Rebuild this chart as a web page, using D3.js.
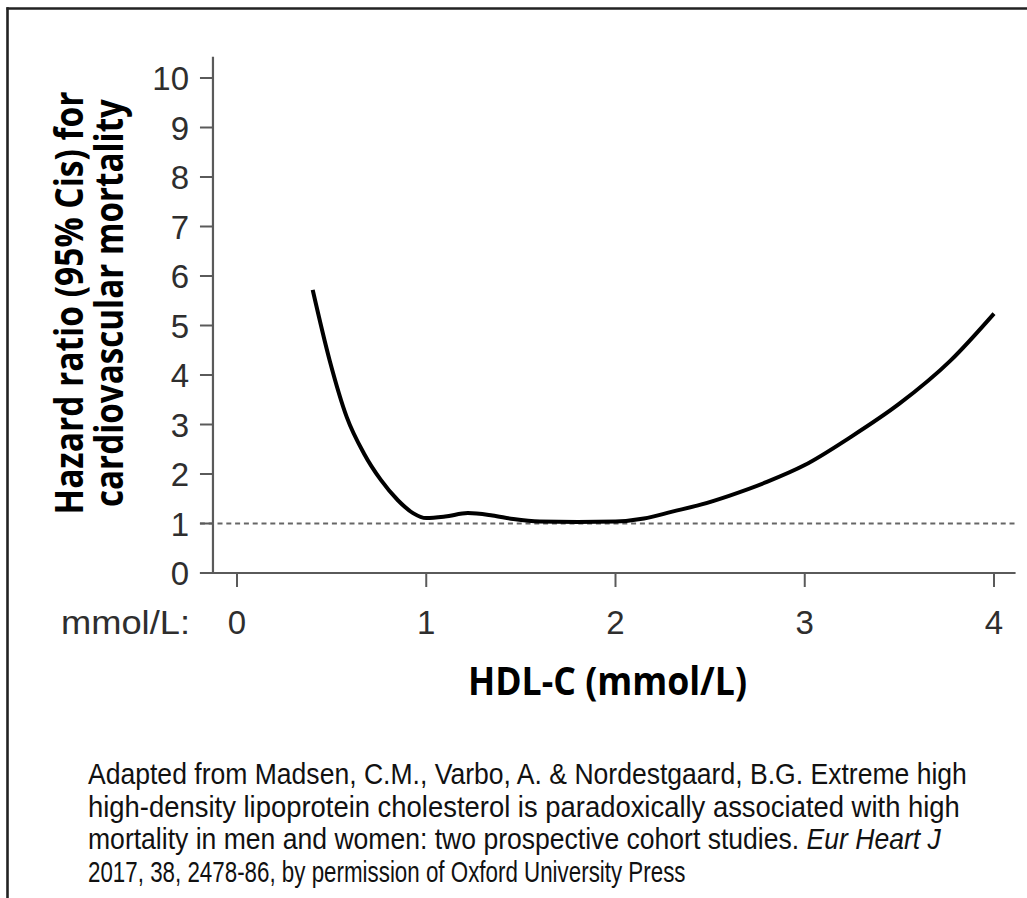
<!DOCTYPE html>
<html>
<head>
<meta charset="utf-8">
<script src="https://cdn.jsdelivr.net/npm/d3@7"></script>
<style>
  html, body { margin: 0; padding: 0; background: #fff; }
  svg { display: block; }
</style>
</head>
<body>
<script>
// ---- Data ----
const hdl = [0.40, 0.49, 0.58, 0.67, 0.76, 0.85, 0.93, 1.00, 1.10, 1.22, 1.35, 1.46, 1.60, 1.80, 2.00, 2.15, 2.30, 2.45, 2.60, 2.80, 3.00, 3.24, 3.50, 3.77, 4.00];
const hazardRatio = [5.72, 4.29, 3.15, 2.42, 1.88, 1.47, 1.21, 1.11, 1.14, 1.21, 1.16, 1.09, 1.04, 1.03, 1.04, 1.10, 1.24, 1.38, 1.56, 1.84, 2.18, 2.74, 3.42, 4.29, 5.24];
const yTicks = [0, 1, 2, 3, 4, 5, 6, 7, 8, 9, 10];
const xTicks = [0, 1, 2, 3, 4];
const referenceHR = 1;
const xUnitLabel = "mmol/L:";
const xTitle = "HDL-C (mmol/L)";
const yTitleLines = ["Hazard ratio (95% Cis) for", "cardiovascular mortality"];
const captionLines = [
  [{t: "Adapted from Madsen, C.M., Varbo, A. & Nordestgaard, B.G. Extreme high"}],
  [{t: "high-density lipoprotein cholesterol is paradoxically associated with high"}],
  [{t: "mortality in men and women: two prospective cohort studies. "}, {t: "Eur Heart J", i: true}],
  [{t: "2017, 38, 2478-86, by permission of Oxford University Press"}]
];

// ---- Layout ----
const W = 1027, H = 898;
const svg = d3.select("body").append("svg").attr("width", W).attr("height", H);
svg.append("rect").attr("width", W).attr("height", H).attr("fill", "#fff");

// frame (top + left)
svg.append("line").attr("x1", 6.5).attr("x2", W).attr("y1", 8.5).attr("y2", 8.5)
  .attr("stroke", "#222").attr("stroke-width", 2.6);
svg.append("line").attr("x1", 7.5).attr("x2", 7.5).attr("y1", 7.2).attr("y2", H)
  .attr("stroke", "#222").attr("stroke-width", 2.6);

const x = d3.scaleLinear().domain([0, 4]).range([237, 994]);
const y = d3.scaleLinear().domain([0, 10]).range([573, 78]);

const axisColor = "#5a5a5a";
const labelColor = "#2e2e2e";
const yAxisX = x(-0.127);
const xAxisY = y(0);

// y axis line
svg.append("line").attr("x1", yAxisX).attr("x2", yAxisX)
  .attr("y1", y(10.43)).attr("y2", xAxisY)
  .attr("stroke", axisColor).attr("stroke-width", 2.2);
// x axis line
svg.append("line").attr("x1", x(-0.196)).attr("x2", x(4.114))
  .attr("y1", xAxisY).attr("y2", xAxisY)
  .attr("stroke", axisColor).attr("stroke-width", 2.2);

// reference dashed line
svg.append("line").attr("x1", x(-0.196)).attr("x2", x(4.114))
  .attr("y1", y(referenceHR)).attr("y2", y(referenceHR))
  .attr("stroke", "#666").attr("stroke-width", 2.2).attr("stroke-dasharray", "5,3.8");

// y ticks
const yt = svg.append("g");
yt.selectAll("line").data(yTicks).join("line")
  .attr("x1", yAxisX - 13).attr("x2", yAxisX)
  .attr("y1", d => y(d)).attr("y2", d => y(d))
  .attr("stroke", axisColor).attr("stroke-width", 2);
yt.selectAll("text").data(yTicks).join("text")
  .attr("x", 189).attr("y", d => y(d) + 12.3)
  .attr("text-anchor", "end")
  .attr("font-family", "Liberation Sans, Arial, sans-serif")
  .attr("font-size", 33).attr("fill", labelColor)
  .text(d => d);

// x ticks
const xt = svg.append("g");
xt.selectAll("line").data(xTicks).join("line")
  .attr("x1", d => x(d)).attr("x2", d => x(d))
  .attr("y1", xAxisY).attr("y2", xAxisY + 14)
  .attr("stroke", axisColor).attr("stroke-width", 2);
xt.selectAll("text").data(xTicks).join("text")
  .attr("x", d => x(d)).attr("y", 634)
  .attr("text-anchor", "middle")
  .attr("font-family", "Liberation Sans, Arial, sans-serif")
  .attr("font-size", 33).attr("fill", labelColor)
  .text(d => d);
svg.append("text").attr("x", 190).attr("y", 634)
  .attr("text-anchor", "end")
  .attr("font-family", "Liberation Sans, Arial, sans-serif")
  .attr("font-size", 33).attr("fill", labelColor)
  .attr("textLength", 129).attr("lengthAdjust", "spacingAndGlyphs")
  .text(xUnitLabel);

// curve
const line = d3.line().x(d => x(d)).y((d, i) => y(hazardRatio[i])).curve(d3.curveMonotoneX);
svg.append("path").attr("d", line(hdl))
  .attr("fill", "none").attr("stroke", "#000").attr("stroke-width", 4)
  .attr("stroke-linejoin", "round");

// axis titles
svg.append("text").attr("x", 607.5).attr("y", 695)
  .attr("text-anchor", "middle")
  .attr("font-family", "Open Sans, sans-serif").attr("font-weight", "bold")
  .attr("font-size", 40).attr("fill", "#000")
  .attr("textLength", 279).attr("lengthAdjust", "spacingAndGlyphs")
  .text(xTitle);

const yTitleBaselines = [83, 123];
const yTitleLengths = [423, 408];
yTitleLines.forEach((t, i) => {
  svg.append("text")
    .attr("transform", `translate(${yTitleBaselines[i]},303) rotate(-90)`)
    .attr("text-anchor", "middle")
    .attr("font-family", "Open Sans, sans-serif").attr("font-weight", "bold")
    .attr("font-size", 39.5).attr("fill", "#000")
    .attr("textLength", yTitleLengths[i]).attr("lengthAdjust", "spacingAndGlyphs")
    .text(t);
});

// caption
const capBaselines = [784, 816.5, 849, 881.5];
const capWidths = [879, 872, 853, 598];
captionLines.forEach((segs, i) => {
  const t = svg.append("text")
    .attr("font-family", "Liberation Sans, Arial, sans-serif")
    .attr("font-size", 29).attr("fill", "#111");
  segs.forEach(s => {
    t.append("tspan").attr("font-style", s.i ? "italic" : "normal").text(s.t);
  });
  const k = capWidths[i] / t.node().getComputedTextLength();
  t.attr("transform", `translate(88,${capBaselines[i]}) scale(${k},1)`);
});
</script>
</body>
</html>
